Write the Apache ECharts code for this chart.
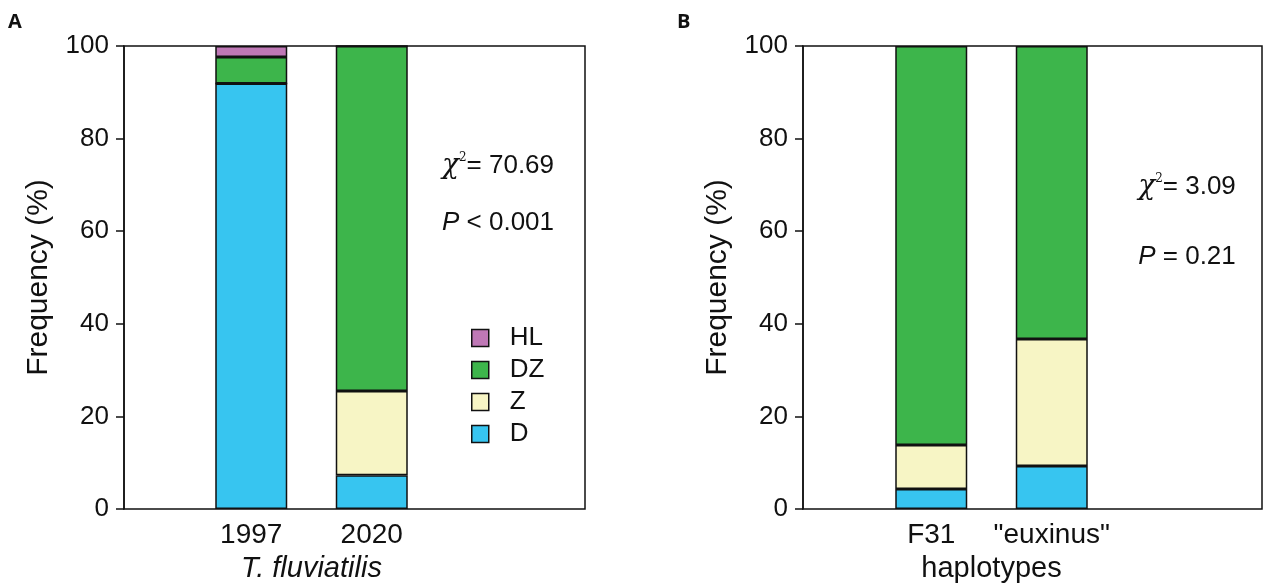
<!DOCTYPE html>
<html>
<head>
<meta charset="utf-8">
<script src="https://cdn.jsdelivr.net/npm/echarts@6/dist/echarts.min.js"></script>
<style>
  html, body { margin: 0; padding: 0; background: #fff; }
  #display { width: 1269px; height: 588px; }
</style>
</head>
<body>
<div id="display"></div>
<script>
// panel A: T. fluviatilis by year
var groupsA = ['1997', '2020'];
var dA = [91.9, 7.3];
var zA = [0, 18.2];
var dzA = [5.7, 74.5];
var hlA = [2.4, 0];

// panel B: haplotypes
var groupsB = ['F31', '"euxinus"'];
var dB = [4.3, 9.3];
var zB = [9.5, 27.4];
var dzB = [86.2, 63.3];

var yTicks = [0, 20, 40, 60, 80, 100];

var colors = {HL: '#bf78b6', DZ: '#3db54b', Z: '#f7f5c5', D: '#37c5f0'};
var font = 'Liberation Sans, Arial, sans-serif';

function frameY(gi) {
    return {
        gridIndex: gi, type: 'value', min: yTicks[0], max: yTicks[yTicks.length - 1], interval: 20,
        name: 'Frequency (%)', nameLocation: 'middle', nameGap: 70,
        nameTextStyle: {fontFamily: font, fontSize: 30, color: '#111'},
        axisLine: {show: true, lineStyle: {color: '#111', width: 1.5}},
        axisTick: {show: true, length: 8, lineStyle: {color: '#111', width: 1.5}},
        axisLabel: {fontFamily: font, fontSize: 26, color: '#111', margin: 15},
        splitLine: {show: false}
    };
}

function hiddenY(gi) {
    return {gridIndex: gi, type: 'value', min: 0, max: 100, show: false};
}

function barX(gi, cats, title, italic) {
    return {
        gridIndex: gi, type: 'category', data: cats,
        axisLine: {show: false}, axisTick: {show: false},
        axisLabel: {fontFamily: font, fontSize: 28, color: '#111', margin: 12, interval: 0, hideOverlap: false},
        name: title, nameLocation: 'middle', nameGap: 45,
        nameTextStyle: {fontFamily: font, fontSize: 29, color: '#111', fontStyle: italic ? 'italic' : 'normal'}
    };
}

function stack(name, vals, xi, st) {
    return {
        name: name, type: 'bar', stack: st, data: vals, barWidth: 72,
        xAxisIndex: xi, yAxisIndex: xi,
        itemStyle: {color: colors[name], borderColor: '#111', borderWidth: 1.5},
        emphasis: {disabled: true}
    };
}

function chi(x, y, val, pText) {
    var rich = {
        c: {fontFamily: 'DejaVu Serif', fontStyle: 'italic', fontSize: 28, fill: '#111'},
        s: {fontFamily: 'DejaVu Serif', fontSize: 12, fill: '#111', padding: [0, 0, 16, 0]},
        t: {fontFamily: font, fontSize: 26, fill: '#111'},
        p: {fontFamily: font, fontStyle: 'italic', fontSize: 26, fill: '#111'}
    };
    return [
        {type: 'text', x: x, y: y[0], style: {text: '{c|χ}{s|2}{t|= ' + val + '}', rich: rich, align: 'center', verticalAlign: 'middle'}},
        {type: 'text', x: x, y: y[1], style: {text: '{p|P}{t| ' + pText + '}', rich: rich, align: 'center', verticalAlign: 'middle'}}
    ];
}

var option = {
    animation: false,
    grid: [
        {left: 124, top: 46, width: 461, height: 463, show: true, borderColor: '#111', borderWidth: 1.5, backgroundColor: 'transparent'},
        {left: 191, top: 46, width: 241, height: 463},
        {left: 803, top: 46, width: 459, height: 463, show: true, borderColor: '#111', borderWidth: 1.5, backgroundColor: 'transparent'},
        {left: 871, top: 46, width: 241, height: 463}
    ],
    xAxis: [
        {gridIndex: 0, type: 'value', min: 0, max: 1, show: false},
        barX(1, groupsA, 'T. fluviatilis', true),
        {gridIndex: 2, type: 'value', min: 0, max: 1, show: false},
        barX(3, groupsB, 'haplotypes', false)
    ],
    yAxis: [frameY(0), hiddenY(1), frameY(2), hiddenY(3)],
    legend: {
        data: ['HL', 'DZ', 'Z', 'D'], orient: 'vertical', left: 466, top: 320,
        itemWidth: 17, itemHeight: 17, itemGap: 6,
        icon: 'rect',
        itemStyle: {borderColor: '#111', borderWidth: 1.5},
        textStyle: {fontFamily: font, fontSize: 26, color: '#111', padding: [0, 0, 0, 16]},
        selectedMode: false
    },
    series: [
        stack('D', dA, 1, 'a'),
        stack('Z', zA, 1, 'a'),
        stack('DZ', dzA, 1, 'a'),
        stack('HL', hlA, 1, 'a'),
        stack('D', dB, 3, 'b'),
        stack('Z', zB, 3, 'b'),
        stack('DZ', dzB, 3, 'b')
    ],
    graphic: [
        {type: 'text', x: 8, y: 12, style: {text: 'A', fontFamily: 'Open Sans', fontWeight: 'bold', fontSize: 20, fill: '#111'}},
        {type: 'text', x: 677, y: 12, style: {text: 'B', fontFamily: 'Open Sans', fontWeight: 'bold', fontSize: 20, fill: '#111'}}
    ].concat(chi(498, [166, 223], '70.69', '< 0.001'), chi(1187, [187, 257], '3.09', '= 0.21'))
};

var myChart = echarts.init(document.getElementById('display'));
myChart.setOption(option);
</script>
</body>
</html>
